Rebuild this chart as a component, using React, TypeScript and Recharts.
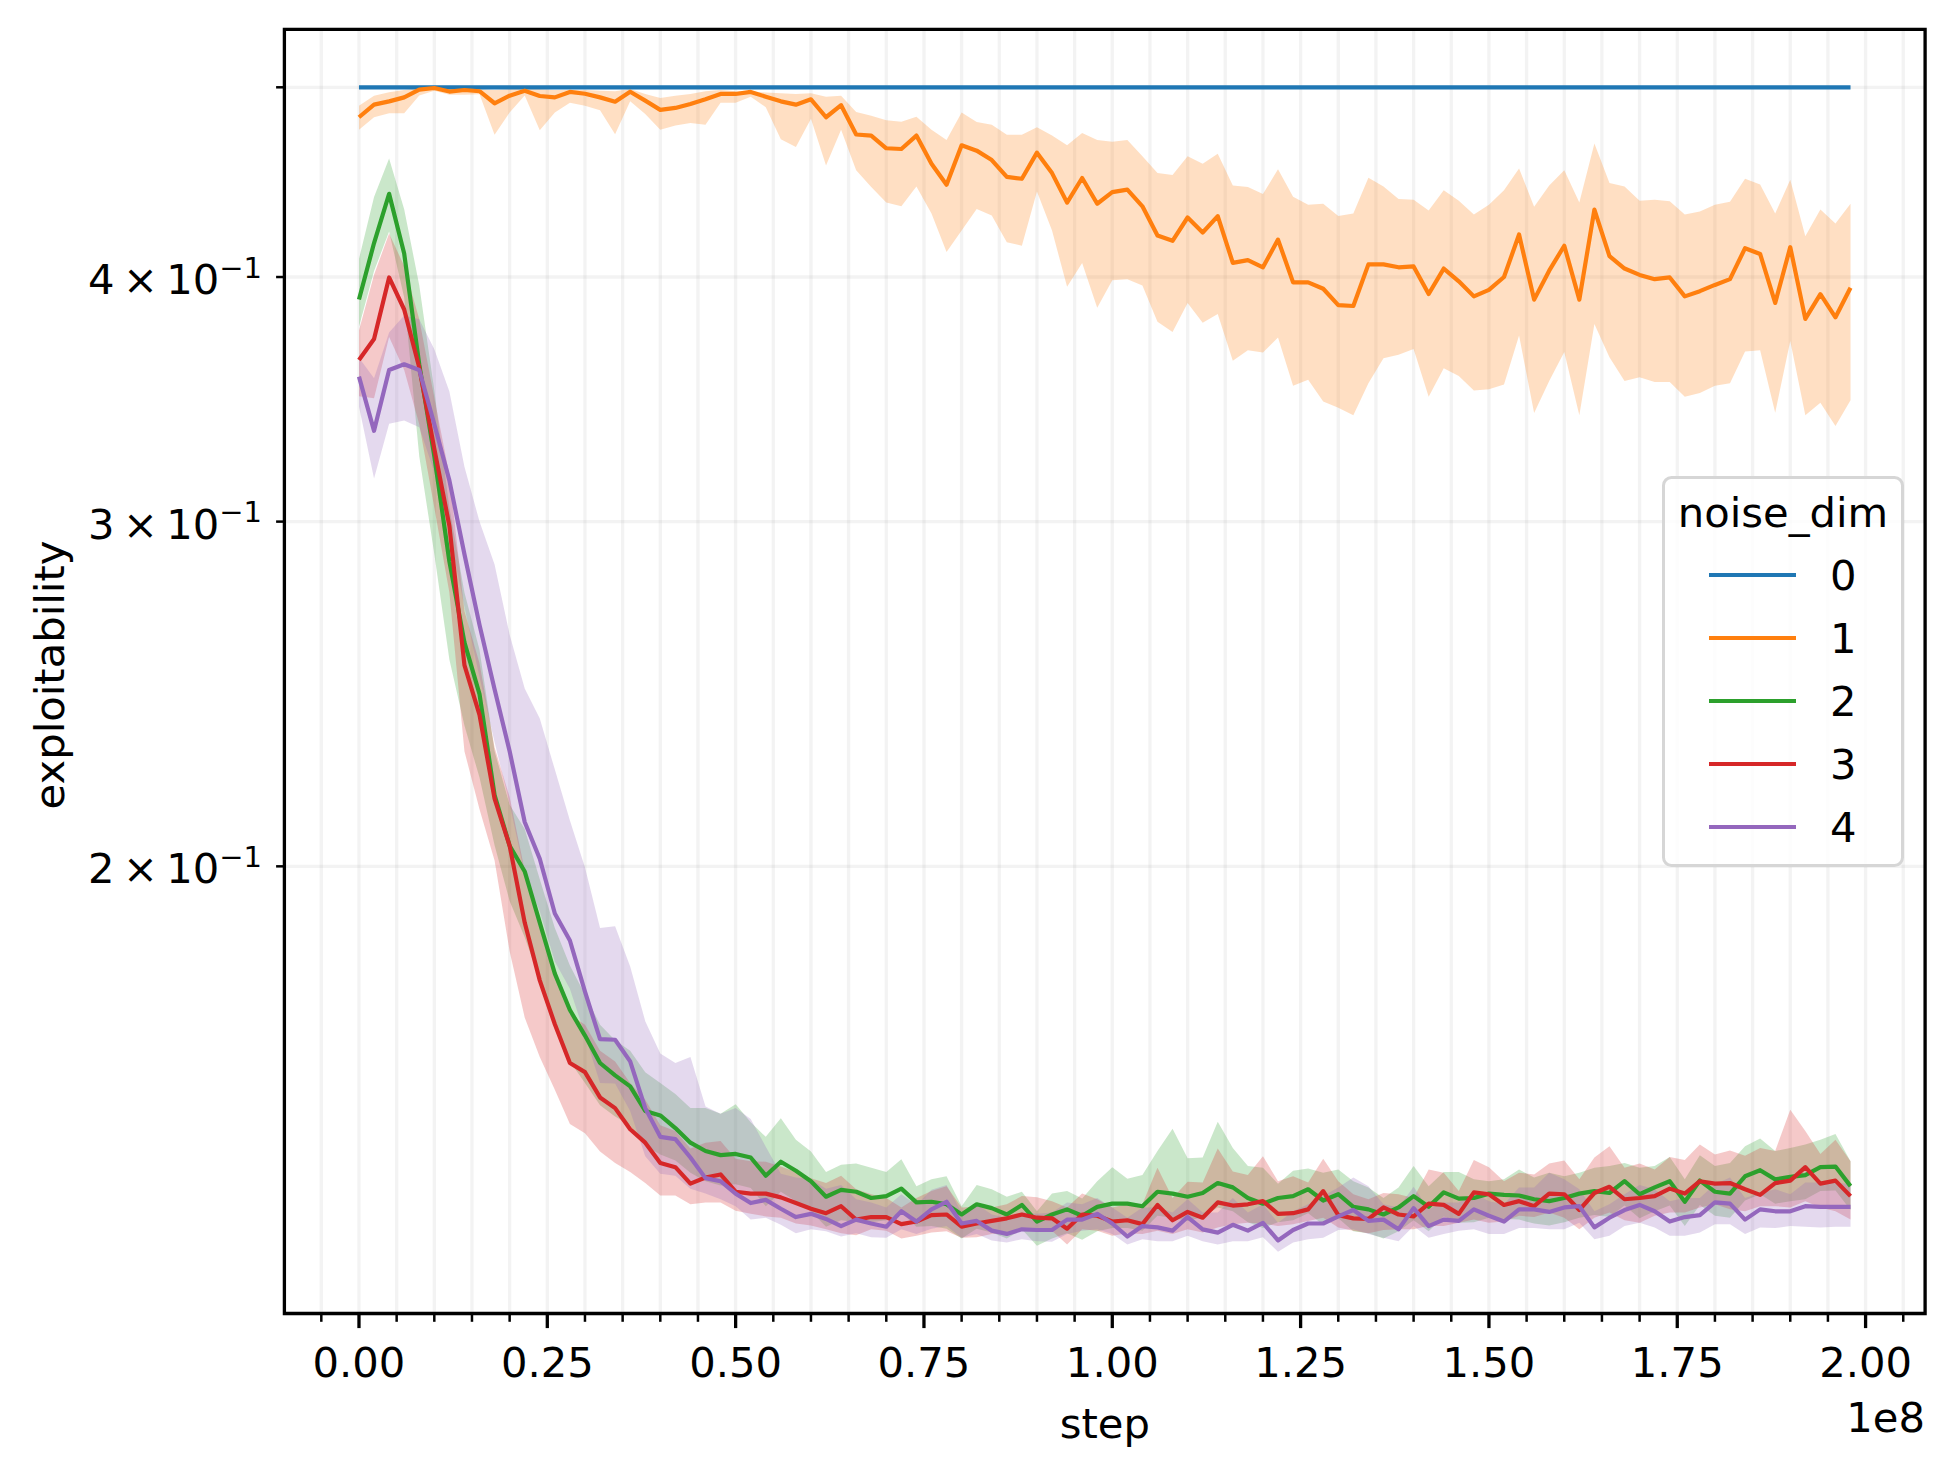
import {
  Area,
  CartesianGrid,
  ComposedChart,
  Legend,
  Line,
  ReferenceArea,
  XAxis,
  YAxis,
} from 'recharts'

const FONT = 'DejaVu Sans'

// training step, in millions
const STEPS = [
  0, 2, 4, 6, 8, 10, 12, 14, 16, 18,
  20, 22, 24, 26, 28, 30, 32, 34, 36, 38,
  40, 42, 44, 46, 48, 50, 52, 54, 56, 58,
  60, 62, 64, 66, 68, 70, 72, 74, 76, 78,
  80, 82, 84, 86, 88, 90, 92, 94, 96, 98,
  100, 102, 104, 106, 108, 110, 112, 114, 116, 118,
  120, 122, 124, 126, 128, 130, 132, 134, 136, 138,
  140, 142, 144, 146, 148, 150, 152, 154, 156, 158,
  160, 162, 164, 166, 168, 170, 172, 174, 176, 178,
  180, 182, 184, 186, 188, 190, 192, 194, 196, 198,
]

const BLUE_MEAN = [
  0.5, 0.5, 0.5, 0.5, 0.5, 0.5, 0.5, 0.5, 0.5, 0.5,
  0.5, 0.5, 0.5, 0.5, 0.5, 0.5, 0.5, 0.5, 0.5, 0.5,
  0.5, 0.5, 0.5, 0.5, 0.5, 0.5, 0.5, 0.5, 0.5, 0.5,
  0.5, 0.5, 0.5, 0.5, 0.5, 0.5, 0.5, 0.5, 0.5, 0.5,
  0.5, 0.5, 0.5, 0.5, 0.5, 0.5, 0.5, 0.5, 0.5, 0.5,
  0.5, 0.5, 0.5, 0.5, 0.5, 0.5, 0.5, 0.5, 0.5, 0.5,
  0.5, 0.5, 0.5, 0.5, 0.5, 0.5, 0.5, 0.5, 0.5, 0.5,
  0.5, 0.5, 0.5, 0.5, 0.5, 0.5, 0.5, 0.5, 0.5, 0.5,
  0.5, 0.5, 0.5, 0.5, 0.5, 0.5, 0.5, 0.5, 0.5, 0.5,
  0.5, 0.5, 0.5, 0.5, 0.5, 0.5, 0.5, 0.5, 0.5, 0.5,
]

const ORANGE_MEAN = [
  0.4827, 0.4899, 0.4918, 0.4941, 0.4986, 0.4996, 0.4975, 0.4984, 0.4977, 0.4907,
  0.4951, 0.4980, 0.4949, 0.4941, 0.4973, 0.4962, 0.4941, 0.4916, 0.4974, 0.4922,
  0.4869, 0.4880, 0.4903, 0.4930, 0.4961, 0.4961, 0.4973, 0.4945, 0.4918, 0.4899,
  0.4930, 0.4827, 0.4896, 0.4730, 0.4724, 0.4654, 0.4650, 0.4724, 0.4570, 0.4459,
  0.4670, 0.4641, 0.4590, 0.4500, 0.4490, 0.4630, 0.4520, 0.4366, 0.4494, 0.4360,
  0.4420, 0.4433, 0.4347, 0.4200, 0.4174, 0.4290, 0.4215, 0.4297, 0.4067, 0.4080,
  0.4046, 0.4180, 0.3975, 0.3975, 0.3945, 0.3870, 0.3866, 0.4060, 0.4060, 0.4046,
  0.4050, 0.3921, 0.4040, 0.3980, 0.3910, 0.3940, 0.4000, 0.4205, 0.3895, 0.4030,
  0.4150, 0.3895, 0.4330, 0.4100, 0.4040, 0.4010, 0.3990, 0.3998, 0.3910, 0.3934,
  0.3963, 0.3990, 0.4138, 0.4110, 0.3880, 0.4143, 0.3808, 0.3920, 0.3815, 0.3950,
]
const ORANGE_HI = [
  0.4893, 0.4951, 0.4971, 0.4984, 0.4996, 0.5000, 0.4990, 0.4990, 0.4990, 0.4984,
  0.4990, 0.4990, 0.4990, 0.4984, 0.4984, 0.4984, 0.4980, 0.4977, 0.4990, 0.4961,
  0.4938, 0.4951, 0.4961, 0.4977, 0.4984, 0.4977, 0.4977, 0.4969, 0.4965, 0.4961,
  0.4965, 0.4945, 0.4951, 0.4857, 0.4835, 0.4810, 0.4802, 0.4830, 0.4757, 0.4700,
  0.4854, 0.4800, 0.4785, 0.4728, 0.4728, 0.4770, 0.4724, 0.4670, 0.4738, 0.4700,
  0.4690, 0.4700, 0.4610, 0.4520, 0.4510, 0.4610, 0.4570, 0.4624, 0.4455, 0.4447,
  0.4410, 0.4540, 0.4396, 0.4355, 0.4360, 0.4298, 0.4310, 0.4496, 0.4449, 0.4385,
  0.4380, 0.4325, 0.4430, 0.4375, 0.4305, 0.4355, 0.4430, 0.4545, 0.4345, 0.4455,
  0.4535, 0.4366, 0.4680, 0.4468, 0.4450, 0.4375, 0.4380, 0.4373, 0.4305, 0.4320,
  0.4355, 0.4370, 0.4490, 0.4460, 0.4310, 0.4485, 0.4197, 0.4330, 0.4260, 0.4360,
]
const ORANGE_LO = [
  0.4757, 0.4827, 0.4850, 0.4850, 0.4952, 0.4980, 0.4957, 0.4957, 0.4960, 0.4728,
  0.4854, 0.4952, 0.4753, 0.4854, 0.4910, 0.4893, 0.4867, 0.4732, 0.4918, 0.4845,
  0.4757, 0.4781, 0.4795, 0.4785, 0.4910, 0.4910, 0.4945, 0.4884, 0.4704, 0.4661,
  0.4818, 0.4560, 0.4757, 0.4535, 0.4447, 0.4366, 0.4347, 0.4450, 0.4310, 0.4120,
  0.4225, 0.4333, 0.4300, 0.4167, 0.4150, 0.4423, 0.4225, 0.3954, 0.4067, 0.3858,
  0.3985, 0.3990, 0.3960, 0.3795, 0.3750, 0.3880, 0.3790, 0.3830, 0.3625, 0.3670,
  0.3660, 0.3725, 0.3520, 0.3545, 0.3455, 0.3430, 0.3400, 0.3530, 0.3635, 0.3650,
  0.3675, 0.3475, 0.3593, 0.3560, 0.3500, 0.3505, 0.3525, 0.3734, 0.3409, 0.3540,
  0.3662, 0.3400, 0.3785, 0.3640, 0.3540, 0.3555, 0.3535, 0.3535, 0.3475, 0.3490,
  0.3520, 0.3530, 0.3665, 0.3670, 0.3410, 0.3710, 0.3400, 0.3450, 0.3357, 0.3460,
]

const GREEN_MEAN = [
  0.3896, 0.4163, 0.4411, 0.4112, 0.3610, 0.3240, 0.2863, 0.2603, 0.2449, 0.2175,
  0.2049, 0.1988, 0.1872, 0.1763, 0.1689, 0.1639, 0.1587, 0.1564, 0.1544, 0.1500,
  0.1492, 0.1470, 0.1445, 0.1431, 0.1424, 0.1426, 0.1420, 0.1390, 0.1413, 0.1398,
  0.1381, 0.1356, 0.1367, 0.1364, 0.1354, 0.1357, 0.1369, 0.1347, 0.1348, 0.1344,
  0.1328, 0.1344, 0.1338, 0.1328, 0.1343, 0.1317, 0.1328, 0.1336, 0.1326, 0.1340,
  0.1345, 0.1345, 0.1341, 0.1364, 0.1361, 0.1356, 0.1362, 0.1378, 0.1371, 0.1354,
  0.1345, 0.1354, 0.1357, 0.1368, 0.1350, 0.1360, 0.1340, 0.1336, 0.1328, 0.1339,
  0.1357, 0.1340, 0.1363, 0.1353, 0.1354, 0.1361, 0.1359, 0.1358, 0.1352, 0.1349,
  0.1354, 0.1361, 0.1365, 0.1362, 0.1381, 0.1360, 0.1371, 0.1381, 0.1348, 0.1382,
  0.1364, 0.1361, 0.1389, 0.1399, 0.1384, 0.1388, 0.1391, 0.1404, 0.1405, 0.1373,
]
const GREEN_HI = [
  0.4086, 0.4395, 0.4598, 0.4332, 0.3962, 0.3500, 0.3050, 0.2760, 0.2580, 0.2290,
  0.2150, 0.2090, 0.1970, 0.1860, 0.1780, 0.1720, 0.1660, 0.1630, 0.1610, 0.1570,
  0.1550, 0.1530, 0.1505, 0.1505, 0.1495, 0.1512, 0.1480, 0.1455, 0.1487, 0.1450,
  0.1430, 0.1396, 0.1408, 0.1410, 0.1403, 0.1396, 0.1417, 0.1373, 0.1384, 0.1389,
  0.1341, 0.1375, 0.1368, 0.1356, 0.1364, 0.1333, 0.1361, 0.1365, 0.1353, 0.1381,
  0.1404, 0.1385, 0.1391, 0.1431, 0.1469, 0.1419, 0.1420, 0.1481, 0.1436, 0.1406,
  0.1403, 0.1377, 0.1398, 0.1402, 0.1395, 0.1400, 0.1381, 0.1371, 0.1354, 0.1371,
  0.1406, 0.1373, 0.1396, 0.1396, 0.1384, 0.1381, 0.1384, 0.1400, 0.1387, 0.1395,
  0.1389, 0.1395, 0.1403, 0.1406, 0.1411, 0.1403, 0.1406, 0.1421, 0.1384, 0.1424,
  0.1406, 0.1411, 0.1439, 0.1452, 0.1431, 0.1436, 0.1442, 0.1450, 0.1460, 0.1414,
]
const GREEN_LO = [
  0.3773, 0.4028, 0.4220, 0.3905, 0.3240, 0.2888, 0.2551, 0.2360, 0.2220, 0.2050,
  0.1920, 0.1840, 0.1750, 0.1660, 0.1590, 0.1550, 0.1510, 0.1490, 0.1475, 0.1440,
  0.1425, 0.1415, 0.1395, 0.1381, 0.1374, 0.1376, 0.1370, 0.1341, 0.1364, 0.1349,
  0.1333, 0.1309, 0.1319, 0.1316, 0.1316, 0.1319, 0.1331, 0.1309, 0.1310, 0.1306,
  0.1291, 0.1306, 0.1300, 0.1291, 0.1305, 0.1280, 0.1291, 0.1299, 0.1289, 0.1302,
  0.1307, 0.1307, 0.1303, 0.1326, 0.1323, 0.1318, 0.1324, 0.1339, 0.1333, 0.1316,
  0.1307, 0.1316, 0.1319, 0.1330, 0.1312, 0.1322, 0.1302, 0.1299, 0.1291, 0.1302,
  0.1319, 0.1302, 0.1325, 0.1315, 0.1316, 0.1323, 0.1321, 0.1320, 0.1314, 0.1311,
  0.1316, 0.1323, 0.1327, 0.1324, 0.1342, 0.1322, 0.1333, 0.1342, 0.1310, 0.1343,
  0.1326, 0.1323, 0.1350, 0.1360, 0.1345, 0.1349, 0.1352, 0.1365, 0.1366, 0.1335,
]

const RED_MEAN = [
  0.3628, 0.3719, 0.3998, 0.3850, 0.3596, 0.3268, 0.2985, 0.2534, 0.2390, 0.2166,
  0.2049, 0.1872, 0.1749, 0.1661, 0.1587, 0.1570, 0.1524, 0.1505, 0.1468, 0.1445,
  0.1411, 0.1404, 0.1377, 0.1387, 0.1392, 0.1364, 0.1361, 0.1361, 0.1355, 0.1346,
  0.1337, 0.1330, 0.1341, 0.1320, 0.1324, 0.1324, 0.1313, 0.1317, 0.1327, 0.1328,
  0.1309, 0.1314, 0.1318, 0.1322, 0.1328, 0.1323, 0.1322, 0.1306, 0.1328, 0.1326,
  0.1317, 0.1319, 0.1313, 0.1343, 0.1319, 0.1332, 0.1323, 0.1347, 0.1342, 0.1344,
  0.1349, 0.1329, 0.1330, 0.1336, 0.1365, 0.1327, 0.1322, 0.1321, 0.1339, 0.1328,
  0.1325, 0.1345, 0.1343, 0.1329, 0.1363, 0.1360, 0.1343, 0.1349, 0.1341, 0.1361,
  0.1360, 0.1335, 0.1362, 0.1372, 0.1352, 0.1354, 0.1357, 0.1369, 0.1361, 0.1381,
  0.1377, 0.1378, 0.1368, 0.1359, 0.1378, 0.1382, 0.1404, 0.1377, 0.1382, 0.1357,
]
const RED_HI = [
  0.3756, 0.4011, 0.4210, 0.4052, 0.3806, 0.3470, 0.3170, 0.2700, 0.2540, 0.2300,
  0.2170, 0.1990, 0.1860, 0.1760, 0.1680, 0.1660, 0.1610, 0.1590, 0.1550, 0.1520,
  0.1475, 0.1465, 0.1435, 0.1445, 0.1448, 0.1418, 0.1414, 0.1413, 0.1405, 0.1396,
  0.1386, 0.1378, 0.1390, 0.1368, 0.1360, 0.1354, 0.1339, 0.1354, 0.1365, 0.1373,
  0.1339, 0.1340, 0.1339, 0.1344, 0.1357, 0.1355, 0.1349, 0.1339, 0.1361, 0.1352,
  0.1339, 0.1344, 0.1344, 0.1403, 0.1354, 0.1380, 0.1379, 0.1435, 0.1397, 0.1391,
  0.1422, 0.1381, 0.1389, 0.1379, 0.1418, 0.1381, 0.1360, 0.1352, 0.1362, 0.1360,
  0.1354, 0.1400, 0.1395, 0.1365, 0.1416, 0.1404, 0.1381, 0.1395, 0.1392, 0.1410,
  0.1415, 0.1384, 0.1420, 0.1439, 0.1403, 0.1410, 0.1400, 0.1421, 0.1416, 0.1442,
  0.1425, 0.1432, 0.1423, 0.1436, 0.1431, 0.1502, 0.1465, 0.1426, 0.1450, 0.1414,
]
const RED_LO = [
  0.3477, 0.3468, 0.3727, 0.3586, 0.3364, 0.3050, 0.2760, 0.2290, 0.2139, 0.2014,
  0.1810, 0.1674, 0.1598, 0.1538, 0.1477, 0.1461, 0.1430, 0.1411, 0.1396, 0.1378,
  0.1358, 0.1358, 0.1344, 0.1347, 0.1347, 0.1334, 0.1329, 0.1325, 0.1323, 0.1314,
  0.1311, 0.1305, 0.1299, 0.1296, 0.1305, 0.1303, 0.1291, 0.1295, 0.1300, 0.1302,
  0.1292, 0.1293, 0.1298, 0.1300, 0.1305, 0.1305, 0.1303, 0.1282, 0.1305, 0.1303,
  0.1295, 0.1299, 0.1298, 0.1303, 0.1298, 0.1305, 0.1300, 0.1308, 0.1313, 0.1315,
  0.1314, 0.1310, 0.1313, 0.1318, 0.1323, 0.1308, 0.1303, 0.1299, 0.1304, 0.1305,
  0.1305, 0.1310, 0.1310, 0.1315, 0.1320, 0.1315, 0.1317, 0.1326, 0.1324, 0.1331,
  0.1323, 0.1305, 0.1323, 0.1331, 0.1319, 0.1315, 0.1326, 0.1331, 0.1331, 0.1339,
  0.1344, 0.1336, 0.1333, 0.1341, 0.1341, 0.1339, 0.1349, 0.1339, 0.1333, 0.1320,
]

const PURPLE_MEAN = [
  0.3558, 0.3338, 0.3586, 0.3610, 0.3586, 0.3364, 0.3149, 0.2887, 0.2657, 0.2463,
  0.2290, 0.2107, 0.2018, 0.1892, 0.1833, 0.1726, 0.1632, 0.1631, 0.1590, 0.1505,
  0.1455, 0.1451, 0.1420, 0.1386, 0.1381, 0.1361, 0.1346, 0.1351, 0.1337, 0.1324,
  0.1329, 0.1321, 0.1310, 0.1320, 0.1314, 0.1309, 0.1333, 0.1317, 0.1336, 0.1348,
  0.1314, 0.1318, 0.1303, 0.1298, 0.1305, 0.1304, 0.1304, 0.1320, 0.1320, 0.1329,
  0.1314, 0.1294, 0.1310, 0.1308, 0.1303, 0.1324, 0.1305, 0.1300, 0.1312, 0.1303,
  0.1315, 0.1288, 0.1304, 0.1314, 0.1314, 0.1325, 0.1335, 0.1318, 0.1320, 0.1305,
  0.1338, 0.1310, 0.1320, 0.1318, 0.1336, 0.1326, 0.1317, 0.1336, 0.1336, 0.1332,
  0.1339, 0.1341, 0.1308, 0.1323, 0.1335, 0.1343, 0.1333, 0.1317, 0.1324, 0.1327,
  0.1347, 0.1345, 0.1320, 0.1336, 0.1333, 0.1333, 0.1341, 0.1340, 0.1340, 0.1340,
]
const PURPLE_HI = [
  0.3638, 0.3551, 0.3747, 0.3823, 0.3806, 0.3674, 0.3496, 0.3200, 0.3000, 0.2852,
  0.2626, 0.2465, 0.2380, 0.2241, 0.2111, 0.1997, 0.1860, 0.1864, 0.1778, 0.1667,
  0.1605, 0.1587, 0.1598, 0.1508, 0.1495, 0.1505, 0.1486, 0.1438, 0.1393, 0.1387,
  0.1384, 0.1369, 0.1375, 0.1352, 0.1347, 0.1339, 0.1360, 0.1343, 0.1367, 0.1375,
  0.1331, 0.1344, 0.1328, 0.1323, 0.1331, 0.1329, 0.1331, 0.1347, 0.1344, 0.1354,
  0.1339, 0.1323, 0.1339, 0.1339, 0.1331, 0.1352, 0.1331, 0.1331, 0.1354, 0.1331,
  0.1344, 0.1315, 0.1333, 0.1344, 0.1357, 0.1371, 0.1387, 0.1373, 0.1344, 0.1339,
  0.1372, 0.1336, 0.1347, 0.1347, 0.1362, 0.1349, 0.1344, 0.1371, 0.1371, 0.1395,
  0.1384, 0.1368, 0.1333, 0.1344, 0.1360, 0.1375, 0.1368, 0.1349, 0.1354, 0.1354,
  0.1376, 0.1387, 0.1354, 0.1362, 0.1368, 0.1360, 0.1379, 0.1379, 0.1379, 0.1376,
]
const PURPLE_LO = [
  0.3435, 0.3156, 0.3366, 0.3379, 0.3352, 0.3180, 0.2960, 0.2714, 0.2498, 0.2315,
  0.2153, 0.1981, 0.1897, 0.1788, 0.1732, 0.1640, 0.1550, 0.1549, 0.1500, 0.1422,
  0.1393, 0.1390, 0.1369, 0.1361, 0.1352, 0.1341, 0.1320, 0.1323, 0.1312, 0.1299,
  0.1305, 0.1302, 0.1294, 0.1299, 0.1293, 0.1292, 0.1305, 0.1298, 0.1306, 0.1310,
  0.1292, 0.1298, 0.1288, 0.1285, 0.1290, 0.1287, 0.1286, 0.1298, 0.1303, 0.1305,
  0.1298, 0.1282, 0.1290, 0.1287, 0.1287, 0.1295, 0.1287, 0.1282, 0.1287, 0.1287,
  0.1293, 0.1271, 0.1285, 0.1290, 0.1292, 0.1304, 0.1305, 0.1298, 0.1292, 0.1287,
  0.1310, 0.1292, 0.1298, 0.1303, 0.1305, 0.1298, 0.1298, 0.1307, 0.1307, 0.1305,
  0.1305, 0.1315, 0.1290, 0.1295, 0.1310, 0.1315, 0.1308, 0.1295, 0.1295, 0.1300,
  0.1313, 0.1313, 0.1298, 0.1308, 0.1307, 0.1310, 0.1309, 0.1308, 0.1309, 0.1309,
]

// x ticks every 0.05e8 (in millions); labelled ones every 0.25e8
const X_TICKS = [
  -5, 0, 5, 10, 15, 20, 25, 30, 35, 40, 45, 50, 55, 60, 65, 70, 75, 80, 85, 90, 95,
  100, 105, 110, 115, 120, 125, 130, 135, 140, 145, 150, 155, 160, 165, 170, 175,
  180, 185, 190, 195, 200, 205,
]
const X_MAJOR = [0, 25, 50, 75, 100, 125, 150, 175, 200]
const Y_TICKS = [0.2, 0.3, 0.4, 0.5]
const Y_MANTISSA = ['2', '3', '4', '']

const SERIES = [
  { name: '0', color: '#1f77b4', mean: BLUE_MEAN, lo: null, hi: null },
  { name: '1', color: '#ff7f0e', mean: ORANGE_MEAN, lo: ORANGE_LO, hi: ORANGE_HI },
  { name: '2', color: '#2ca02c', mean: GREEN_MEAN, lo: GREEN_LO, hi: GREEN_HI },
  { name: '3', color: '#d62728', mean: RED_MEAN, lo: RED_LO, hi: RED_HI },
  { name: '4', color: '#9467bd', mean: PURPLE_MEAN, lo: PURPLE_LO, hi: PURPLE_HI },
]

const rows = STEPS.map((step, i) => {
  const row: Record<string, number | number[]> = { step }
  SERIES.forEach((s) => {
    row['m' + s.name] = s.mean[i]
    if (s.lo && s.hi) row['b' + s.name] = [s.lo[i], s.hi[i]]
  })
  return row
})

function XTick(props: any) {
  const { x, y, payload } = props
  const v = payload.value
  const major = X_MAJOR.includes(v)
  return (
    <g>
      <line
        x1={x}
        x2={x}
        y1={y}
        y2={y + (major ? 14.6 : 8.3)}
        stroke="#000"
        strokeWidth={major ? 3.3 : 2.5}
      />
      {major && (
        <text x={x} y={y + 63.8} textAnchor="middle" fontSize={41.7} fontFamily={FONT} fill="#000">
          {(v / 100).toFixed(2)}
        </text>
      )}
    </g>
  )
}

function YTick(props: any) {
  const { x, y, payload } = props
  const m = Y_MANTISSA[Y_TICKS.indexOf(payload.value)]
  return (
    <g>
      <line x1={x - 8.3} x2={x} y1={y} y2={y} stroke="#000" strokeWidth={2.5} />
      {m && (
        <text x={x - 22.4} y={y + 17} textAnchor="end" fontSize={41.7} fontFamily={FONT} fill="#000">
          <tspan>{`${m}\u2009×\u200910`}</tspan>
          <tspan dy={-16.4} fontSize={29}>
            −1
          </tspan>
        </text>
      )}
    </g>
  )
}

const xTitle = () => (
  <g>
    <text x={1104.8} y={1438} textAnchor="middle" fontSize={41.7} fontFamily={FONT} fill="#000">
      step
    </text>
    <text x={1925} y={1431.5} textAnchor="end" fontSize={41.7} fontFamily={FONT} fill="#000">
      1e8
    </text>
  </g>
)

const yTitle = () => (
  <text
    x={63.5}
    y={675}
    transform="rotate(-90 63.5 675)"
    textAnchor="middle"
    fontSize={41.7}
    fontFamily={FONT}
    fill="#000"
  >
    exploitability
  </text>
)

function NoiseLegend() {
  return (
    <svg width={242} height={391} style={{ display: 'block' }}>
      <rect x={1.5} y={1.5} width={239} height={388} rx={8} fill="#fff" fillOpacity={0.8} stroke="#d6d6d6" strokeWidth={3} />
      <text x={121} y={51} textAnchor="middle" fontSize={41.7} fontFamily={FONT} fill="#000">
        noise_dim
      </text>
      {SERIES.map((s, i) => (
        <g key={s.name}>
          <line x1={47} x2={134} y1={99 + 63 * i} y2={99 + 63 * i} stroke={s.color} strokeWidth={4.2} />
          <text x={168} y={114 + 63 * i} fontSize={41.7} fontFamily={FONT} fill="#000">
            {s.name}
          </text>
        </g>
      ))}
    </svg>
  )
}

export default function App() {
  return (
    <div style={{ position: 'absolute', left: 0, top: 0, background: '#fff' }}>
      <ComposedChart
        width={1954}
        height={1474}
        data={rows}
        margin={{ top: 29.3, right: 28.9, bottom: 0, left: 0 }}
      >
        <CartesianGrid stroke="#b0b0b0" strokeOpacity={0.15} strokeWidth={3.3} />
        <XAxis
          type="number"
          dataKey="step"
          domain={[-9.9, 207.9]}
          allowDataOverflow
          ticks={X_TICKS}
          interval={0}
          tick={(p: any) => <XTick {...p} />}
          tickLine={false}
          axisLine={false}
          tickSize={0}
          tickMargin={0}
          height={160.5}
          label={xTitle}
        />
        <YAxis
          type="number"
          scale="log"
          domain={[0.1182, 0.5353]}
          allowDataOverflow
          ticks={Y_TICKS}
          interval={0}
          tick={(p: any) => <YTick {...p} />}
          tickLine={false}
          axisLine={false}
          tickSize={0}
          tickMargin={0}
          width={284.4}
          label={yTitle}
        />
        {SERIES.filter((s) => s.lo).map((s) => (
          <Area
            key={'b' + s.name}
            dataKey={'b' + s.name}
            type="linear"
            stroke="none"
            fill={s.color}
            fillOpacity={0.25}
            dot={false}
            activeDot={false}
            legendType="none"
            isAnimationActive={false}
          />
        ))}
        {SERIES.map((s) => (
          <Line
            key={'m' + s.name}
            dataKey={'m' + s.name}
            type="linear"
            stroke={s.color}
            strokeWidth={4.2}
            strokeLinejoin="round"
            dot={false}
            activeDot={false}
            isAnimationActive={false}
          />
        ))}
        <ReferenceArea
          x1={-9.9}
          x2={207.9}
          y1={0.1182}
          y2={0.5353}
          fill="none"
          stroke="#000"
          strokeWidth={3.3}
          ifOverflow="visible"
        />
        <Legend
          layout="vertical"
          align="center"
          verticalAlign="middle"
          wrapperStyle={{ position: 'absolute', left: 1662, top: 476, width: 242, height: 391 }}
          content={() => <NoiseLegend />}
        />
      </ComposedChart>
    </div>
  )
}
